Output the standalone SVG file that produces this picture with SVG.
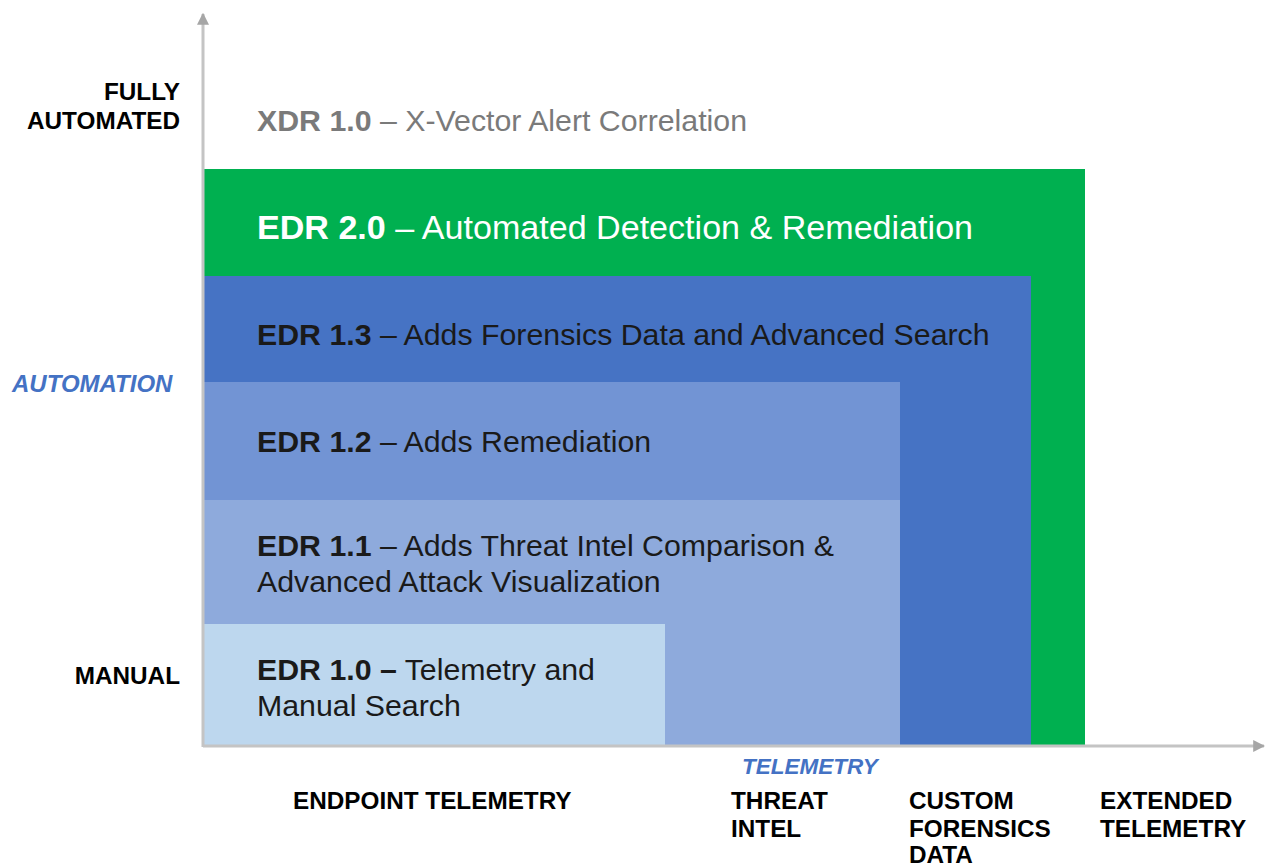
<svg xmlns="http://www.w3.org/2000/svg" width="1265" height="868" viewBox="0 0 1265 868">
  <defs>
    <style>
      text { font-family: "Liberation Sans", Arial, sans-serif; }
      .lbl { font-size: 24.3px; font-weight: bold; fill: #000; }
      .ax { font-size: 23px; font-weight: bold; font-style: italic; fill: #4472c4; }
      .body { font-size: 30.3px; fill: #1a1a1a; }
      .b { font-weight: bold; }
      .axis { stroke: #c4c4c4; stroke-width: 3; fill: none; }
    </style>
    <marker id="arr" viewBox="0 0 10 10" refX="9" refY="5" markerWidth="4" markerHeight="4" orient="auto" markerUnits="strokeWidth">
      <path d="M0,0 L10,5 L0,10 Z" fill="#a6a6a6"/>
    </marker>
  </defs>
  <rect width="1265" height="868" fill="#ffffff"/>

  <g id="xdr10">
    <text class="body" x="257" y="131" style="fill:#7a7a7a"><tspan class="b">XDR 1.0</tspan> – X-Vector Alert Correlation</text>
  </g>
  <g id="edr20">
    <rect x="204" y="169" width="881" height="577" fill="#00b050"/>
    <text class="body" x="257" y="239" style="fill:#ffffff;font-size:34.1px"><tspan class="b">EDR 2.0</tspan> – Automated Detection &amp; Remediation</text>
  </g>
  <g id="edr13">
    <rect x="204" y="276" width="827" height="470" fill="#4673c4"/>
    <text class="body" x="257" y="345"><tspan class="b">EDR 1.3</tspan> – Adds Forensics Data and Advanced Search</text>
  </g>
  <g id="edr12">
    <rect x="204" y="382" width="696" height="118" fill="#7294d4"/>
    <text class="body" x="257" y="452"><tspan class="b">EDR 1.2</tspan> – Adds Remediation</text>
  </g>
  <g id="edr11">
    <rect x="204" y="500" width="696" height="246" fill="#8eaadc"/>
    <text class="body" x="257" y="556"><tspan class="b">EDR 1.1</tspan> – Adds Threat Intel Comparison &amp;</text>
    <text class="body" x="257" y="592">Advanced Attack Visualization</text>
  </g>
  <g id="edr10">
    <rect x="204" y="624" width="461" height="122" fill="#bdd7ee"/>
    <text class="body" x="257" y="680"><tspan class="b">EDR 1.0 –</tspan> Telemetry and</text>
    <text class="body" x="257" y="716">Manual Search</text>
  </g>

  <g id="connectors">
    <line class="axis" x1="203" y1="747" x2="203" y2="14" marker-end="url(#arr)"/>
    <line class="axis" x1="203" y1="746" x2="1264" y2="746" marker-end="url(#arr)"/>
  </g>

  <g id="y-labels">
    <text class="lbl" x="180" y="100" text-anchor="end">FULLY</text>
    <text class="lbl" x="180" y="129" text-anchor="end">AUTOMATED</text>
    <text class="ax" x="12" y="392" style="font-size:24px">AUTOMATION</text>
    <text class="lbl" x="180" y="684" text-anchor="end">MANUAL</text>
  </g>
  <g id="x-labels">
    <text class="ax" x="742" y="774" style="font-size:22.5px">TELEMETRY</text>
    <text class="lbl" x="293" y="809">ENDPOINT TELEMETRY</text>
    <text class="lbl" x="731" y="809">THREAT</text>
    <text class="lbl" x="731" y="837">INTEL</text>
    <text class="lbl" x="909" y="809">CUSTOM</text>
    <text class="lbl" x="909" y="837">FORENSICS</text>
    <text class="lbl" x="909" y="863">DATA</text>
    <text class="lbl" x="1100" y="809">EXTENDED</text>
    <text class="lbl" x="1100" y="837">TELEMETRY</text>
  </g>
</svg>
